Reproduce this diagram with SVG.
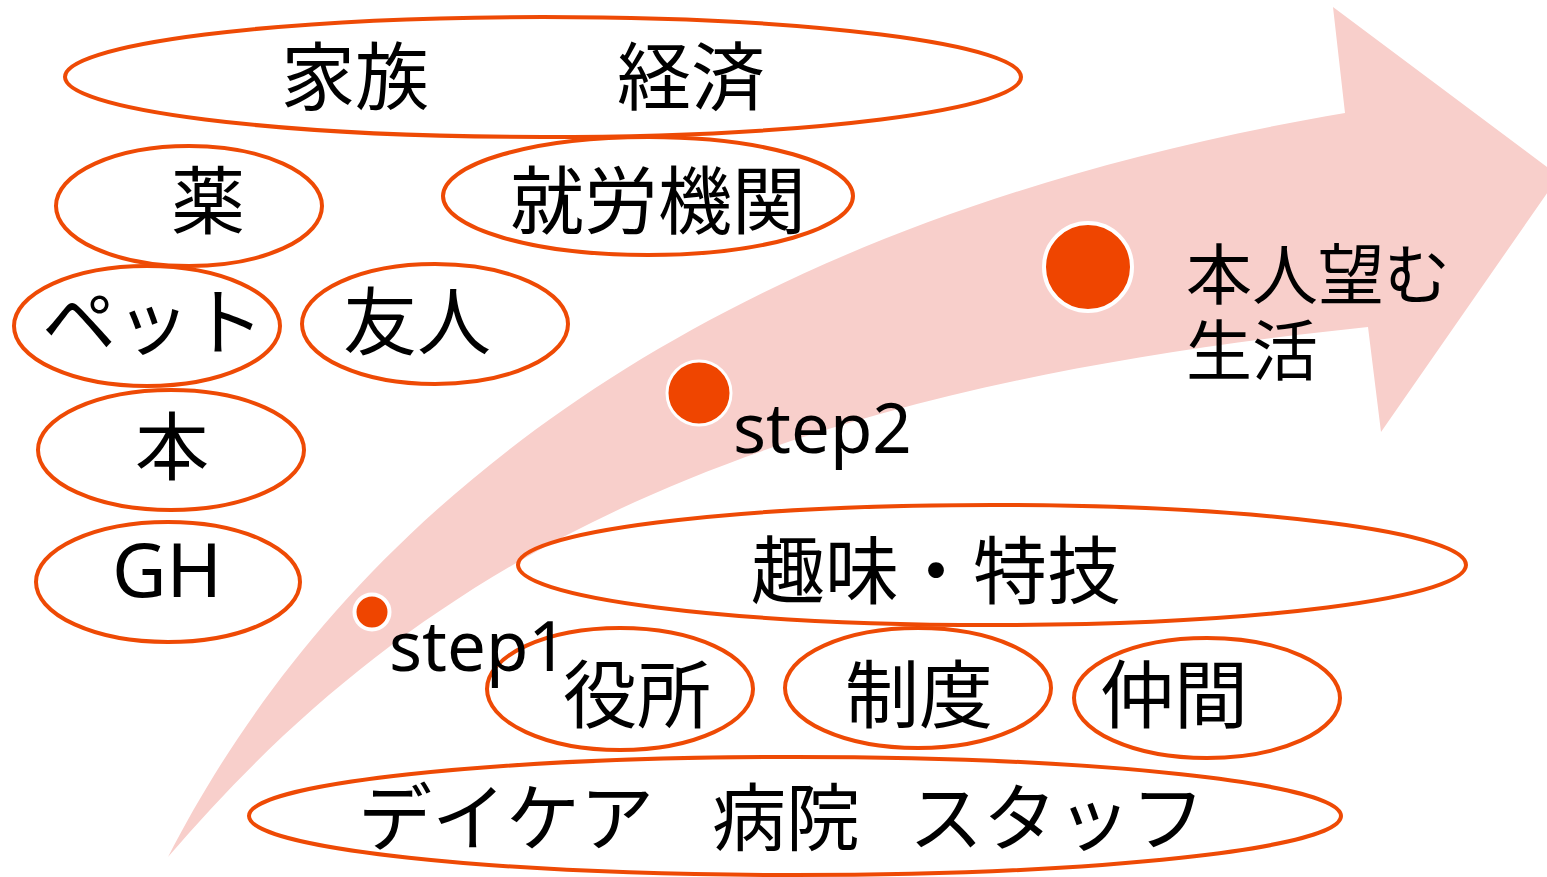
<svg xmlns="http://www.w3.org/2000/svg" width="1547" height="877" viewBox="0 0 1547 877">
<style>
.n{fill:none;stroke:#EE4A05;stroke-width:4}
.t{font-family:"Noto Sans CJK JP","Noto Sans",sans-serif;font-size:74px;fill:#000}
.l{font-family:"Noto Sans","Noto Sans CJK JP",sans-serif;font-size:69px;fill:#000}
.d{fill:#EF4500;stroke:#fff}
</style>
<rect width="1547" height="877" fill="#fff"/>
<g id="arrow">
<path d="M168,857 C300,600 600,240 1345,113 L1333,7 L1559,176 L1381,432 L1368,327 C760,390 430,550 168,857 Z" fill="#F8CFCB"/>
</g>
<g id="connectors"></g>
<g id="n-family"><ellipse class="n" cx="543" cy="77" rx="478" ry="60"/><text class="t" y="104"><tspan x="281">家族</tspan><tspan x="617">経済</tspan></text></g>
<g id="n-medicine"><ellipse class="n" cx="189" cy="206" rx="133" ry="60"/><text class="t" x="171" y="228">薬</text></g>
<g id="n-work"><ellipse class="n" cx="648" cy="196" rx="205" ry="59"/><text class="t" x="510" y="228">就労機関</text></g>
<g id="n-pet"><ellipse class="n" cx="147" cy="326" rx="133" ry="60"/><text class="t" x="42" y="349">ペット</text></g>
<g id="n-friend"><ellipse class="n" cx="435" cy="324" rx="133" ry="60"/><text class="t" x="343" y="349">友人</text></g>
<g id="n-book"><ellipse class="n" cx="171" cy="450" rx="133" ry="60"/><text class="t" x="135" y="474">本</text></g>
<g id="n-gh"><ellipse class="n" cx="168" cy="582" rx="132" ry="60"/><text class="t" x="112" y="597" style="font-family:'Noto Sans',sans-serif;font-size:75px">GH</text></g>
<g id="n-hobby"><ellipse class="n" cx="992" cy="565" rx="474" ry="60"/><text class="t" x="751" y="598">趣味・特技</text></g>
<g id="n-office"><ellipse class="n" cx="620" cy="689" rx="133" ry="61"/><text class="t" x="563" y="722">役所</text></g>
<g id="n-system"><ellipse class="n" cx="918" cy="688" rx="133" ry="60"/><text class="t" x="845" y="722">制度</text></g>
<g id="n-peer"><ellipse class="n" cx="1207" cy="698" rx="133" ry="60"/><text class="t" x="1100" y="722">仲間</text></g>
<g id="n-staff"><ellipse class="n" cx="795" cy="816" rx="546" ry="59"/><text class="t" y="845"><tspan x="358">デイケア</tspan><tspan x="712">病院</tspan><tspan x="909">スタッフ</tspan></text></g>
<g id="step1"><circle class="d" cx="372" cy="612" r="17.5" stroke-width="4"/><text class="l" x="389" y="671">step1</text></g>
<g id="step2"><circle class="d" cx="699" cy="393" r="32" stroke-width="3"/><text class="l" x="733" y="453">step2</text></g>
<g id="goal"><circle class="d" cx="1088" cy="267" r="44" stroke-width="4"/><text class="t" style="font-size:66px" x="1186" y="299">本人望む</text><text class="t" style="font-size:66px" x="1186" y="375">生活</text></g>
</svg>
